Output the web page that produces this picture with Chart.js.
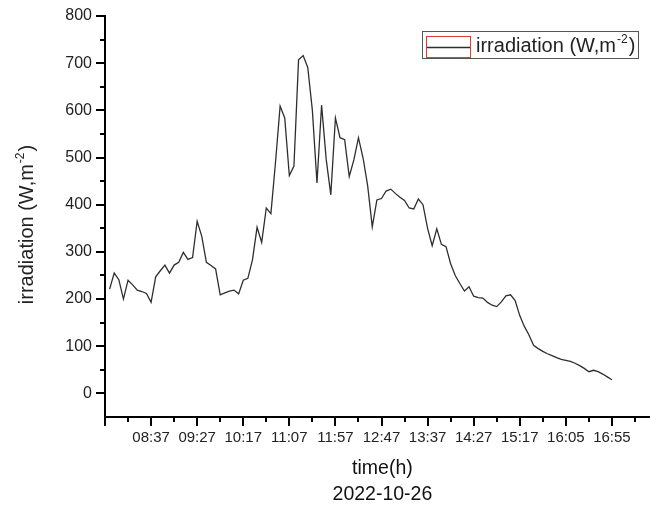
<!DOCTYPE html>
<html>
<head>
<meta charset="utf-8">
<script src="https://cdn.jsdelivr.net/npm/chart.js@4"></script>
<style>
  html, body { margin: 0; padding: 0; background: #fff; overflow: hidden; }
  #wrap { width: 650px; height: 506px; overflow: hidden; }
</style>
</head>
<body>
<div id="wrap"><canvas id="chart" width="670" height="506"></canvas></div>
<script>
// irradiation samples (W/m2), roughly one every 5 min
const irradiation = [
  221, 255, 241, 200, 240, 230, 219, 216, 212, 193,
  247, 260, 272, 255, 272, 278, 299, 284, 288, 365,
  333, 278, 271, 264, 209, 213, 217, 219, 211, 240,
  244, 283, 352, 320, 393, 381, 490, 609, 584, 462,
  482, 707, 716, 691, 600, 446, 611, 496, 421, 584,
  542, 538, 460, 495, 542, 499, 440, 353, 410, 413,
  429, 433, 424, 416, 409, 393, 391, 412, 400, 350,
  313, 349, 316, 311, 275, 250, 233, 217, 226, 206,
  203, 202, 193, 187, 184, 194, 207, 209, 197, 165,
  142, 124, 102, 95, 89, 84, 80, 76, 72, 70,
  68, 64, 59, 53, 46, 49, 46, 41, 35, 29
];

// labelled ticks on the time axis (every 10th sample, starting at sample 9)
const tickLabels = ['08:37', '09:27', '10:17', '11:07', '11:57', '12:47', '13:37', '14:27', '15:17', '16:05', '16:55'];
const firstLabelIdx = 9;
const labelStep = 10;

const FONT = "'Liberation Sans', Arial, sans-serif";
const TEXT = '#222';

// draw "base" + superscript + "tail"
function drawSupText(ctx, base, sup, tail, size, x, y, align) {
  const big = size + 'px ' + FONT;
  const small = Math.round(size * 0.6) + 'px ' + FONT;
  ctx.font = big;
  const wb = ctx.measureText(base).width;
  const wt = ctx.measureText(tail).width;
  ctx.font = small;
  const ws = ctx.measureText(sup).width;
  let sx = align === 'center' ? x - (wb + ws + wt + 3) / 2 : x;
  ctx.textAlign = 'left';
  ctx.textBaseline = 'alphabetic';
  ctx.font = big;
  ctx.fillText(base, sx, y);
  ctx.font = small;
  ctx.fillText(sup, sx + wb + 1, y - size * 0.45);
  ctx.font = big;
  ctx.fillText(tail, sx + wb + ws + 2, y);
}

// tick marks: long on labelled ticks, short in between
const tickMarks = {
  id: 'tickMarks',
  afterDraw(chart) {
    const ctx = chart.ctx;
    const xs = chart.scales.x, ys = chart.scales.y;
    const area = chart.chartArea;
    ctx.save();
    ctx.strokeStyle = '#000';
    ctx.lineWidth = 2;
    ctx.beginPath();
    xs.ticks.forEach(t => {
      const px = Math.round(xs.getPixelForValue(t.value));
      const len = ((t.value - firstLabelIdx) % labelStep === 0) ? 9 : 5;
      ctx.moveTo(px, area.bottom);
      ctx.lineTo(px, area.bottom + len);
    });
    ys.ticks.forEach(t => {
      if (t.value < 0) return;
      const py = Math.round(ys.getPixelForValue(t.value));
      const len = (t.value % 100 === 0) ? 9 : 5;
      ctx.moveTo(area.left, py);
      ctx.lineTo(area.left - len, py);
    });
    ctx.stroke();
    ctx.restore();
  }
};

// origin-style legend box + rotated y title with superscript
const decorations = {
  id: 'decorations',
  afterDraw(chart) {
    const ctx = chart.ctx;
    const ds = chart.data.datasets[0];
    ctx.save();
    ctx.fillStyle = TEXT;
    // y title
    ctx.save();
    ctx.translate(26, 224);
    ctx.rotate(-Math.PI / 2);
    drawSupText(ctx, 'irradiation (W,m', '-2', ')', 20, 0, 7, 'center');
    ctx.restore();

    // legend
    ctx.strokeStyle = '#555';
    ctx.lineWidth = 1;
    ctx.strokeRect(422.5, 31.5, 216, 27);
    ctx.strokeStyle = '#e53935';
    ctx.strokeRect(426.5, 36.5, 44, 21);
    ctx.strokeStyle = ds.borderColor;
    ctx.lineWidth = 1.3;
    ctx.beginPath();
    ctx.moveTo(427, 47.5);
    ctx.lineTo(470, 47.5);
    ctx.stroke();
    ctx.fillStyle = TEXT;
    drawSupText(ctx, 'irradiation (W,m', '-2', ')', 20, 476, 52, 'left');
    ctx.restore();
  }
};

new Chart(document.getElementById('chart'), {
  type: 'line',
  data: {
    datasets: [{
      label: 'irradiation (W,m-2)',
      data: irradiation.map((v, i) => ({ x: i, y: v })),
      borderColor: '#2e2e2e',
      borderWidth: 1.3,
      pointRadius: 0,
      tension: 0,
      fill: false
    }]
  },
  options: {
    responsive: false,
    animation: false,
    layout: { padding: { top: 16, right: 0, left: 0, bottom: 0 } },
    plugins: {
      legend: { display: false },
      tooltip: { enabled: false }
    },
    scales: {
      x: {
        type: 'linear',
        min: -1,
        max: 119.4,
        grid: { display: false, drawTicks: false },
        border: { display: true, color: '#000', width: 2 },
        afterBuildTicks(scale) {
          const ticks = [];
          for (let v = -1; v <= 119; v += 5) ticks.push({ value: v });
          scale.ticks = ticks;
        },
        afterFit(scale) { scale.height = 89; },
        ticks: {
          autoSkip: false,
          maxRotation: 0,
          padding: 12,
          color: TEXT,
          font: { family: FONT, size: 15 },
          callback(v) {
            const k = (v - firstLabelIdx) / labelStep;
            return Number.isInteger(k) && tickLabels[k] ? tickLabels[k] : '';
          }
        },
        title: {
          display: true,
          text: ['time(h)', '2022-10-26'],
          color: '#111',
          font: { family: FONT, size: 19.5, lineHeight: 1.3 },
          padding: { top: 0, bottom: -1 }
        }
      },
      y: {
        min: -50,
        max: 800,
        grid: { display: false, drawTicks: false },
        border: { display: true, color: '#000', width: 2 },
        afterFit(scale) {
          scale.width = 105;
          scale.paddingTop = 0;
          scale.paddingBottom = 0;
        },
        ticks: {
          stepSize: 50,
          padding: 13,
          color: TEXT,
          font: { family: FONT, size: 16 },
          callback(v) { return (v >= 0 && v % 100 === 0) ? v : ''; }
        }
      }
    }
  },
  plugins: [tickMarks, decorations]
});
</script>
</body>
</html>
